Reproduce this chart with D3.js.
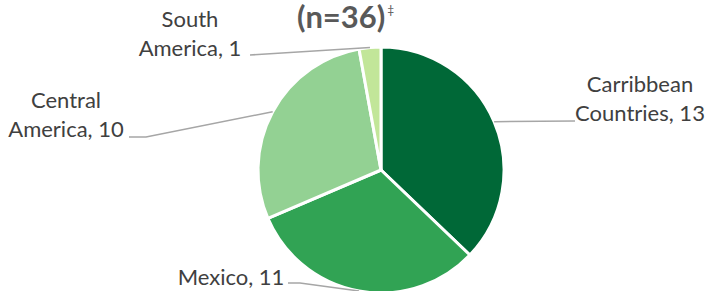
<!DOCTYPE html>
<html>
<head>
<meta charset="utf-8">
<script src="https://cdn.jsdelivr.net/npm/d3@7"></script>
<style>
  html, body { margin: 0; padding: 0; background: #fff; }
  svg { display: block; }
</style>
</head>
<body>
<div id="chart"></div>
<script>
// data
const regions = ['Carribbean Countries', 'Mexico', 'Central America', 'South America'];
const counts = [13, 11, 10, 1];
const labelLines = [['Carribbean', 'Countries, 13'], ['Mexico, 11'], ['Central', 'America, 10'], ['South', 'America, 1']];
const sliceColors = ['#006837', '#31a354', '#93d193', '#c2e699'];

const width = 709, height = 291;
const cx = 381, cy = 170, radius = 123;

// where each label sits (text centre / first baseline) and where its leader meets it
const labelPos = [
  {x: 640, y: 92, anchor: 'middle', end: [[575, 121]]},
  {x: 231, y: 285, anchor: 'middle', end: [[300, 283], [288, 283]]},
  {x: 66, y: 108, anchor: 'middle', end: [[146, 137], [129, 137]]},
  {x: 190, y: 27, anchor: 'middle', end: [[250, 55]]}
];

const svg = d3.select('#chart')
  .append('svg')
  .attr('width', width)
  .attr('height', height);

const data = regions.map((r, i) => ({region: r, count: counts[i], i: i}));

const pie = d3.pie().sort(null).value(d => d.count);
const arc = d3.arc().innerRadius(0).outerRadius(radius);
const arcs = pie(data);

const g = svg.append('g')
  .attr('transform', 'translate(' + cx + ',' + cy + ')');

g.selectAll('path.slice')
  .data(arcs)
  .enter()
  .append('path')
  .attr('class', 'slice')
  .attr('d', arc)
  .attr('fill', d => sliceColors[d.data.i])
  .attr('stroke', '#fff')
  .attr('stroke-width', 3)
  .attr('stroke-linejoin', 'round');

// leader lines from the slice edge out to the labels
const line = d3.line();
svg.selectAll('path.leader')
  .data(arcs)
  .enter()
  .append('path')
  .attr('class', 'leader')
  .attr('d', d => {
    const a = (d.startAngle + d.endAngle) / 2;
    const start = [cx + radius * Math.sin(a), cy - radius * Math.cos(a)];
    return line([start].concat(labelPos[d.data.i].end));
  })
  .attr('fill', 'none')
  .attr('stroke', '#a6a6a6')
  .attr('stroke-width', 1.5);

// labels
const labels = svg.selectAll('text.label')
  .data(arcs)
  .enter()
  .append('text')
  .attr('class', 'label')
  .attr('x', d => labelPos[d.data.i].x)
  .attr('y', d => labelPos[d.data.i].y)
  .attr('text-anchor', d => labelPos[d.data.i].anchor)
  .style('font-family', 'Lato, "Open Sans", sans-serif')
  .style('font-size', '22px')
  .style('fill', '#404040');

labels.selectAll('tspan')
  .data(d => labelLines[d.data.i].map((t, k) => ({t: t, k: k, x: labelPos[d.data.i].x})))
  .enter()
  .append('tspan')
  .attr('x', d => d.x)
  .attr('dy', d => d.k === 0 ? 0 : 29)
  .text(d => d.t);

// title (only its bottom line is in view)
const title = svg.append('text')
  .attr('x', 297)
  .attr('y', 28)
  .style('font-family', 'Lato, "Open Sans", sans-serif')
  .style('font-weight', 'bold')
  .style('font-size', '31px')
  .style('fill', '#595959');
title.append('tspan').text('(n=36)');
title.append('tspan')
  .attr('dy', -14)
  .attr('dx', 2)
  .style('font-size', '12px')
  .style('font-weight', 'normal')
  .text('‡');
</script>
</body>
</html>
